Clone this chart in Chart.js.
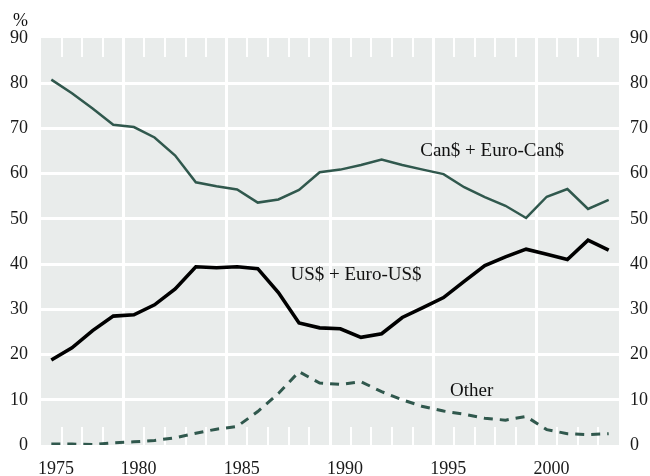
<!DOCTYPE html>
<html lang="en">
<head>
    <meta charset="UTF-8">
    <title>Currency composition (Can$ / US$ / Other)</title>
    <script src="https://cdn.jsdelivr.net/npm/chart.js"></script>
    <style>
        html, body { margin: 0; padding: 0; background: #fff; }
        .chart-container { position: relative; width: 650px; height: 476px; }
    </style>
</head>
<body>
    <div class="chart-container">
        <canvas id="shareChart"></canvas>
    </div>

    <script>
        // Annual shares (%), plotted at mid-year
        const years = [1976, 1977, 1978, 1979, 1980, 1981, 1982, 1983, 1984, 1985,
                       1986, 1987, 1988, 1989, 1990, 1991, 1992, 1993, 1994, 1995,
                       1996, 1997, 1998, 1999, 2000, 2001, 2002, 2003];
        const canShare = [80.8, 77.8, 74.4, 70.8, 70.3, 68.0, 64.0, 58.1, 57.2, 56.5,
                          53.6, 54.3, 56.4, 60.3, 60.9, 61.9, 63.1, 61.9, 60.9, 59.9,
                          57.0, 54.8, 52.9, 50.2, 54.9, 56.6, 52.2, 54.2];
        const usShare = [18.8, 21.5, 25.3, 28.5, 28.8, 31.0, 34.5, 39.4, 39.2, 39.4,
                         39.0, 33.7, 27.0, 25.9, 25.7, 23.8, 24.6, 28.2, 30.4, 32.6,
                         36.2, 39.7, 41.6, 43.3, 42.2, 41.0, 45.3, 43.1];
        const otherShare = [0.2, 0.2, 0.1, 0.5, 0.7, 1.0, 1.6, 2.6, 3.5, 4.1,
                            7.4, 11.4, 16.2, 13.7, 13.4, 14.0, 11.8, 10.0, 8.5, 7.5,
                            6.8, 5.9, 5.5, 6.3, 3.4, 2.5, 2.3, 2.5];

        // x-axis ticks (start of year) and their labels
        const tickYears = [1976, 1980, 1985, 1990, 1995, 2000];
        const tickLabels = ['1975', '1980', '1985', '1990', '1995', '2000'];

        // series names, written next to the lines
        const seriesNames = ['Can$ + Euro-Can$', 'US$ + Euro-US$', 'Other'];
        const namePos = [[1997.85, 65.1], [1991.26, 37.5], [1996.86, 11.9]];

        const toPoints = vals => vals.map((v, i) => ({ x: years[i] + 0.5, y: v }));

        const serif = '"Liberation Serif", "Times New Roman", serif';
        const tickFont = { family: serif, size: 18 };
        Chart.defaults.font.family = serif;
        Chart.defaults.font.size = 18;
        Chart.defaults.color = '#1a1a1a';

        const green = '#30584d';

        // background panel, minor year ticks, line names
        const framePlugin = {
            id: 'frame',
            beforeDraw(chart) {
                const { ctx, chartArea: a } = chart;
                ctx.save();
                ctx.fillStyle = '#e9eceb';
                ctx.fillRect(a.left, a.top, a.right - a.left, a.bottom - a.top);
                ctx.restore();
            },
            beforeDatasetsDraw(chart) {
                const { ctx, chartArea: a, scales: { x } } = chart;
                ctx.save();
                ctx.strokeStyle = '#ffffff';
                ctx.lineWidth = 2;
                for (let yr = years[0] + 1; yr <= years[years.length - 1]; yr++) {
                    if (tickYears.includes(yr)) continue;
                    const px = Math.round(x.getPixelForValue(yr));
                    ctx.beginPath();
                    ctx.moveTo(px, a.top);
                    ctx.lineTo(px, a.top + 19);
                    ctx.moveTo(px, a.bottom - 18);
                    ctx.lineTo(px, a.bottom);
                    ctx.stroke();
                }
                ctx.restore();
            },
            afterDatasetsDraw(chart) {
                const { ctx, chartArea: a, scales: { x, y } } = chart;
                ctx.save();
                ctx.fillStyle = '#111';
                ctx.font = '19px ' + serif;
                ctx.textAlign = 'center';
                ctx.textBaseline = 'middle';
                seriesNames.forEach((name, i) => {
                    ctx.fillText(name, x.getPixelForValue(namePos[i][0]), y.getPixelForValue(namePos[i][1]));
                });
                ctx.font = '18px ' + serif;
                ctx.textAlign = 'right';
                ctx.fillText('%', a.left - 13, 21);
                ctx.restore();
            }
        };

        const ctx = document.getElementById('shareChart').getContext('2d');
        const shareChart = new Chart(ctx, {
            type: 'line',
            data: {
                datasets: [
                    {
                        label: seriesNames[0],
                        data: toPoints(canShare),
                        borderColor: green,
                        borderWidth: 2.5,
                        pointRadius: 0,
                        tension: 0,
                        fill: false
                    },
                    {
                        label: seriesNames[1],
                        data: toPoints(usShare),
                        borderColor: '#000000',
                        borderWidth: 3.6,
                        pointRadius: 0,
                        tension: 0,
                        fill: false
                    },
                    {
                        label: seriesNames[2],
                        data: toPoints(otherShare),
                        borderColor: green,
                        borderWidth: 3,
                        borderDash: [9, 7],
                        pointRadius: 0,
                        tension: 0,
                        fill: false
                    }
                ]
            },
            options: {
                responsive: true,
                maintainAspectRatio: false,
                animation: false,
                layout: { padding: { top: 38, left: 0, right: 0, bottom: 0 } },
                scales: {
                    x: {
                        type: 'linear',
                        min: 1976,
                        max: 2004,
                        afterBuildTicks: axis => { axis.ticks = tickYears.map(v => ({ value: v })); },
                        afterFit: scale => { scale.height = 31; },
                        ticks: {
                            autoSkip: false,
                            maxRotation: 0,
                            labelOffset: 15,
                            padding: 13,
                            font: tickFont,
                            callback: (v, i) => tickLabels[i]
                        },
                        grid: {
                            color: c => (c.tick && c.tick.value === tickYears[0]) ? 'rgba(0,0,0,0)' : '#ffffff',
                            lineWidth: 3,
                            drawTicks: false
                        },
                        border: { display: false }
                    },
                    y: {
                        position: 'left',
                        min: 0,
                        max: 90,
                        afterFit: scale => { scale.width = 41; },
                        ticks: { stepSize: 10, padding: 13, font: tickFont },
                        grid: {
                            color: c => (c.tick && (c.tick.value === 0 || c.tick.value === 90)) ? 'rgba(0,0,0,0)' : '#ffffff',
                            lineWidth: 3,
                            drawTicks: false
                        },
                        border: { display: false }
                    },
                    y2: {
                        position: 'right',
                        min: 0,
                        max: 90,
                        afterFit: scale => { scale.width = 31; },
                        ticks: { stepSize: 10, padding: 11, font: tickFont },
                        grid: { display: false, drawTicks: false },
                        border: { display: false }
                    }
                },
                plugins: {
                    legend: { display: false },
                    tooltip: { enabled: false }
                }
            },
            plugins: [framePlugin]
        });
    </script>
</body>
</html>
